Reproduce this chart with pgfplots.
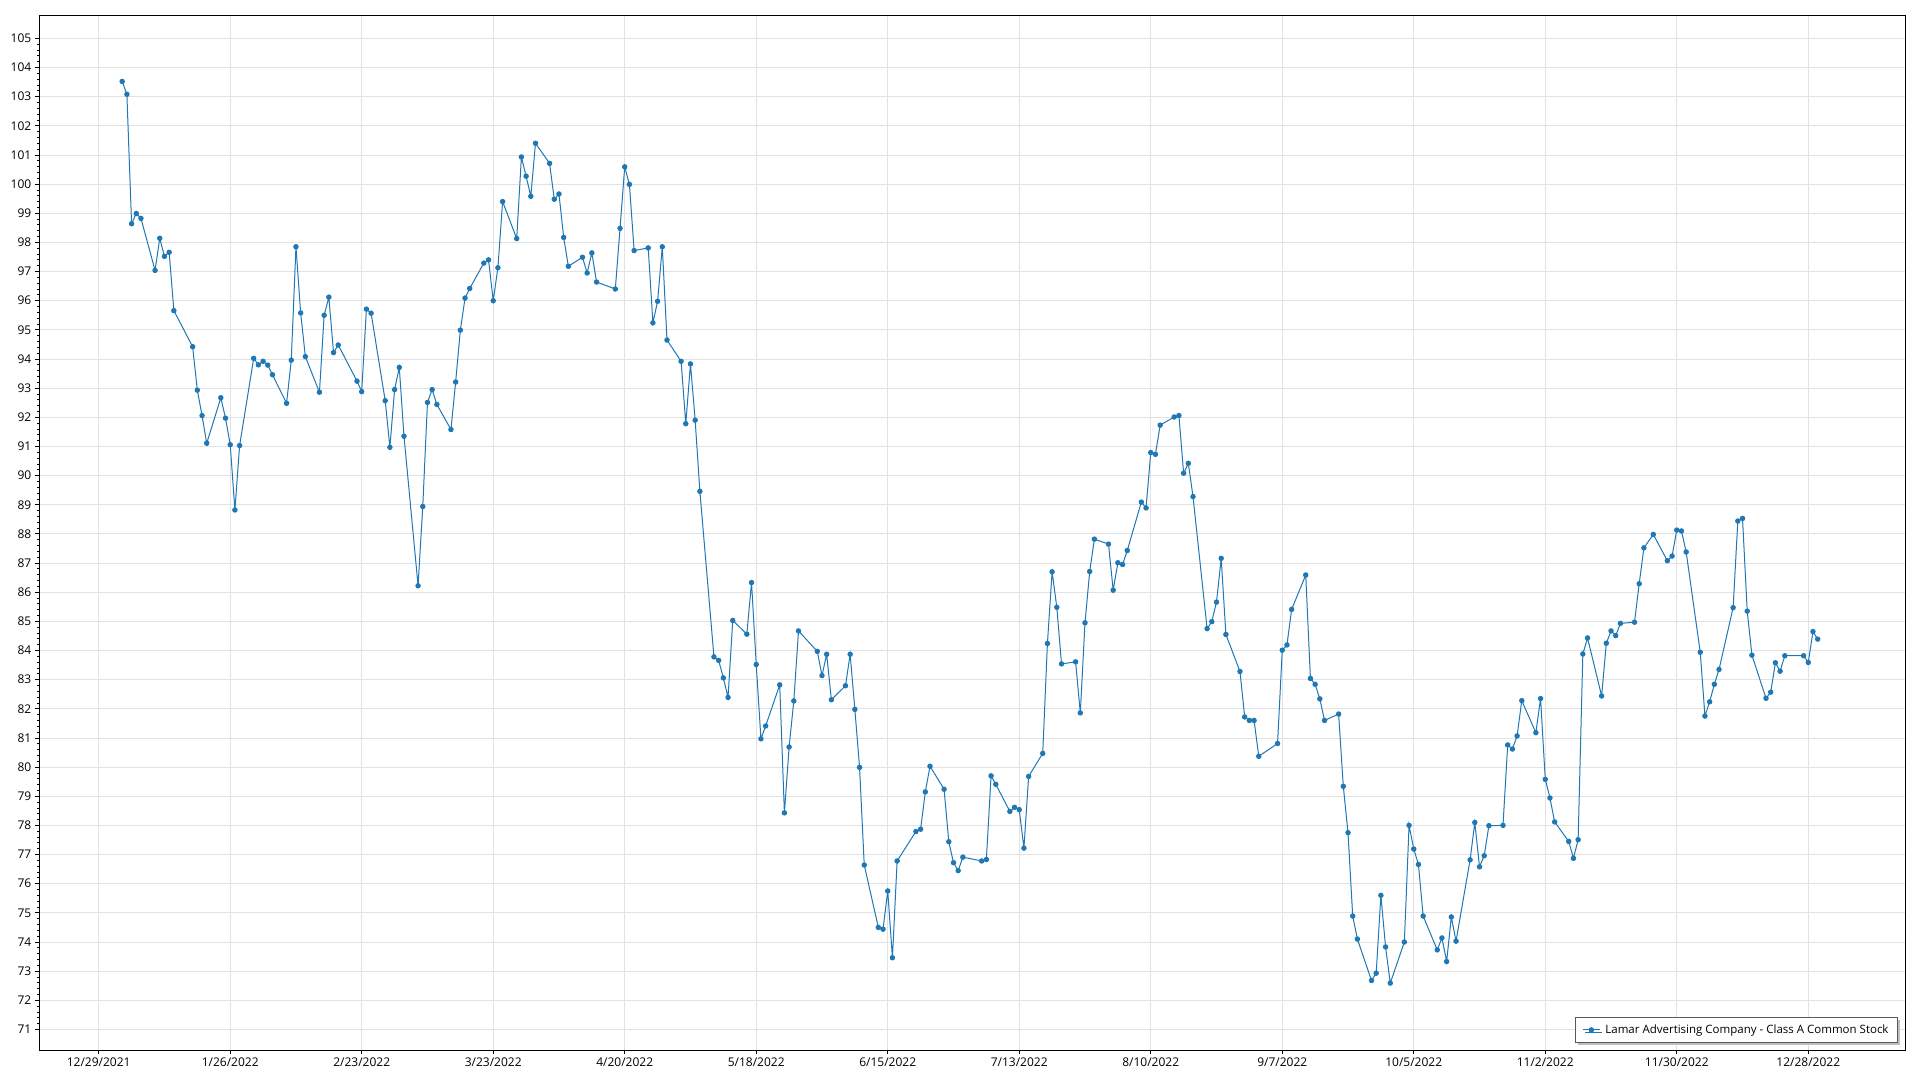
\documentclass[border=0pt]{standalone}
\usepackage{fontspec}
\setmainfont{Open Sans}
\usepackage{pgfplots}
\usepackage{pgfplotstable}
\pgfplotsset{compat=1.18}
\usetikzlibrary{shadows}

\definecolor{series}{HTML}{1F77B4}
\definecolor{gridgray}{HTML}{E2E2E2}

% d = days since 12/29/2021, close price
\pgfplotstableread{
d price
5 103.52
6 103.08
7 98.64
8 98.99
9 98.82
12 97.04
13 98.14
14 97.52
15 97.66
16 95.66
20 94.42
21 92.93
22 92.06
23 91.11
26 92.67
27 91.97
28 91.06
29 88.82
30 91.03
33 94.02
34 93.80
35 93.92
36 93.79
37 93.46
40 92.48
41 93.96
42 97.85
43 95.58
44 94.08
47 92.86
48 95.50
49 96.12
50 94.22
51 94.48
55 93.24
56 92.88
57 95.71
58 95.57
61 92.57
62 90.97
63 92.95
64 93.71
65 91.35
68 86.22
69 88.94
70 92.51
71 92.95
72 92.44
75 91.58
76 93.21
77 94.99
78 96.09
79 96.42
82 97.29
83 97.40
84 96.00
85 97.13
86 99.40
89 98.13
90 100.93
91 100.27
92 99.58
93 101.40
96 100.71
97 99.48
98 99.66
99 98.17
100 97.18
103 97.49
104 96.95
105 97.64
106 96.64
110 96.40
111 98.48
112 100.59
113 99.99
114 97.72
117 97.81
118 95.24
119 95.98
120 97.85
121 94.65
124 93.92
125 91.78
126 93.83
127 91.90
128 89.46
131 83.78
132 83.66
133 83.06
134 82.39
135 85.03
138 84.56
139 86.33
140 83.52
141 80.97
142 81.41
145 82.82
146 78.43
147 80.69
148 82.27
149 84.67
153 83.97
154 83.14
155 83.87
156 82.31
159 82.79
160 83.87
161 81.98
162 79.99
163 76.64
166 74.50
167 74.44
168 75.75
169 73.46
170 76.78
174 77.79
175 77.87
176 79.15
177 80.03
180 79.24
181 77.44
182 76.72
183 76.45
184 76.91
188 76.78
189 76.83
190 79.70
191 79.41
194 78.48
195 78.62
196 78.54
197 77.22
198 79.68
201 80.47
202 84.24
203 86.70
204 85.48
205 83.54
208 83.61
209 81.86
210 84.95
211 86.71
212 87.82
215 87.65
216 86.07
217 87.01
218 86.95
219 87.43
222 89.09
223 88.89
224 90.79
225 90.73
226 91.73
229 92.01
230 92.06
231 90.08
232 90.42
233 89.28
236 84.75
237 84.99
238 85.66
239 87.16
240 84.55
243 83.28
244 81.72
245 81.60
246 81.60
247 80.37
251 80.81
252 84.01
253 84.19
254 85.41
257 86.59
258 83.04
259 82.84
260 82.34
261 81.60
264 81.82
265 79.34
266 77.75
267 74.89
268 74.10
271 72.68
272 72.93
273 75.60
274 73.83
275 72.59
278 74.00
279 78.00
280 77.19
281 76.66
282 74.89
285 73.73
286 74.14
287 73.33
288 74.86
289 74.03
292 76.82
293 78.10
294 76.58
295 76.96
296 77.99
299 78.00
300 80.76
301 80.62
302 81.07
303 82.28
306 81.18
307 82.35
308 79.58
309 78.94
310 78.12
313 77.45
314 76.87
315 77.51
316 83.88
317 84.43
320 82.44
321 84.25
322 84.67
323 84.51
324 84.93
327 84.97
328 86.29
329 87.52
331 87.98
334 87.08
335 87.24
336 88.13
337 88.10
338 87.38
341 83.94
342 81.75
343 82.24
344 82.84
345 83.35
348 85.47
349 88.44
350 88.53
351 85.35
352 83.84
355 82.36
356 82.57
357 83.58
358 83.29
359 83.82
363 83.82
364 83.59
365 84.65
366 84.39
}\prices

\begin{document}
\fontsize{11.5}{14}\selectfont
\begin{tikzpicture}
\begin{axis}[
  width=1866pt, height=1035pt,
  scale only axis,
  xmin=-12.65, xmax=384.6,
  ymin=70.29, ymax=105.79,
  xtick={0,28,...,364},
  xticklabels={12/29/2021,1/26/2022,2/23/2022,3/23/2022,4/20/2022,5/18/2022,6/15/2022,7/13/2022,8/10/2022,9/7/2022,10/5/2022,11/2/2022,11/30/2022,12/28/2022},
  ytick={71,72,...,105},
  minor y tick num=4,
  tick align=outside,
  tick pos=left,
  major tick length=4pt,
  minor tick length=2.5pt,
  tick style={black, line width=0.8pt},
  grid=major,
  major grid style={gridgray, line width=0.8pt},
  axis line style={black, line width=1pt},
  /pgf/number format/assume math mode=true,
  ticklabel style={font=\fontsize{12}{14}\selectfont},
  legend cell align=left,
  legend style={
    at={(1,0)}, anchor=south east, xshift=-7pt, yshift=7pt,
    draw=black!65, line width=1pt, fill=white,
    drop shadow={shadow xshift=2.5pt, shadow yshift=-2.5pt, fill=black!25, opacity=1},
    inner xsep=7pt, inner ysep=5.5pt,
    font=\fontsize{11.5}{14}\selectfont,
  },
]
\addplot[series, line width=1pt, mark=*, mark size=2.2pt] table[x=d, y=price] {\prices};
\addlegendentry{\hspace{3pt}Lamar Advertising Company - Class A Common Stock}
\end{axis}
\path (current axis.south west) ++(-39.3pt,-30pt);
\path (current axis.north east) ++(15pt,15.3pt);
\end{tikzpicture}
\end{document}
